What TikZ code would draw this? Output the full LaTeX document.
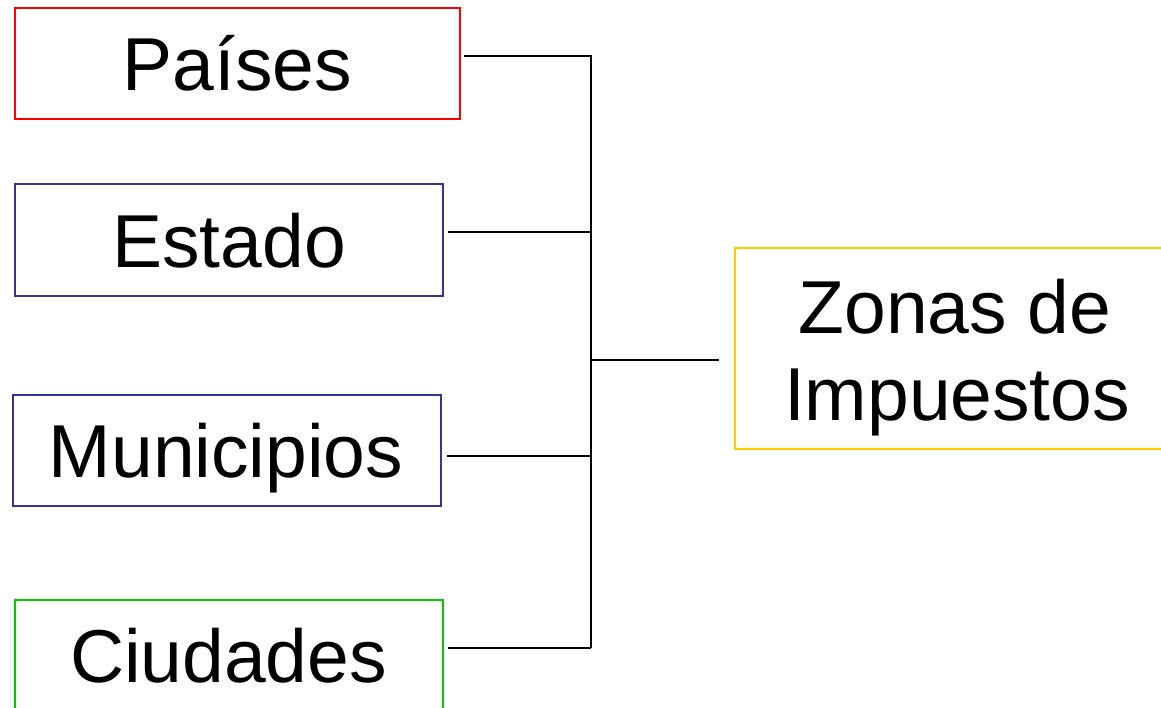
\documentclass[tikz,border=0pt]{standalone}
\usepackage{fontspec}
\setmainfont{Liberation Sans}
\definecolor{cred}{RGB}{255,0,0}
\definecolor{cblue}{RGB}{51,51,153}
\definecolor{cgreen}{RGB}{0,204,0}
\definecolor{cyellow}{RGB}{255,204,0}
\begin{document}
\begin{tikzpicture}[x=1bp,y=-1bp,
  box/.style={draw,line width=2bp,inner sep=0pt,outer sep=0pt,anchor=north west},
  lbl/.style={anchor=base,inner sep=0pt,font=\fontsize{75bp}{87bp}\selectfont,align=center},
  conn/.style={line width=2.5bp,black}]
\useasboundingbox (0,0) rectangle (1161,708);
\clip (0,0) rectangle (1161,708);
% boxes
\node[box,cred,minimum width=445bp,minimum height=110bp] (pb) at (14.5,8.5) {};
\node[box,cblue,minimum width=428bp,minimum height=111bp] (eb) at (14.5,184.5) {};
\node[box,cblue,minimum width=428bp,minimum height=111bp] (mb) at (12.5,395) {};
\node[box,cgreen,minimum width=428bp,minimum height=111bp] (cb) at (14.5,600) {};
\node[box,cyellow,minimum width=440bp,minimum height=201bp] (zb) at (735,248) {};
% labels
\node[lbl] (pt) at (237.5,91) {Países};
\node[lbl] (et) at (229,267) {Estado};
\node[lbl] (mt) at (226,477) {Municipios};
\node[lbl] (ct) at (228.5,682) {Ciudades};
\node[lbl] (zt1) at (955,333) {Zonas de};
\node[lbl] (zt2) at (957,420) {Impuestos};
% connectors
\coordinate (b1) at (591,56);
\coordinate (b2) at (591,232);
\coordinate (b3) at (591,456);
\coordinate (b4) at (591,648);
\coordinate (bm) at (591,360);
\coordinate (zin) at (719,360);
\draw[conn] (pb.east |- b1) ++(4,0) -- (b1) -- (b4);
\draw[conn] (eb.east |- b2) ++(5,0) -- (b2);
\draw[conn] (mb.east |- b3) ++(6,0) -- (b3);
\draw[conn] (cb.east |- b4) ++(5,0) -- (b4);
\draw[conn] (bm) -- (zin);
\end{tikzpicture}
\end{document}
